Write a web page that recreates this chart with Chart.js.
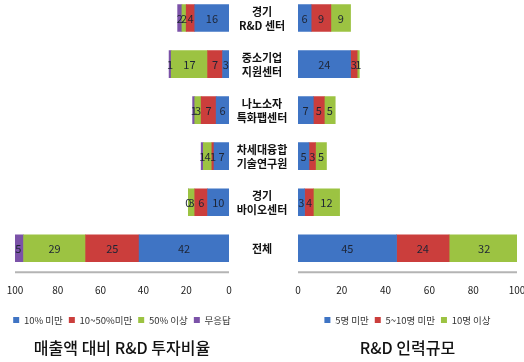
<!DOCTYPE html>
<html><head><meta charset="utf-8">
<script src="https://cdn.jsdelivr.net/npm/chart.js@4"></script>
<style>
html,body{margin:0;padding:0;background:#fff;width:524px;height:362px;overflow:hidden;position:relative;}
#c1{position:absolute;left:0;top:-6px;}
#c2{position:absolute;left:280px;top:-6px;}
</style></head><body>
<canvas id="c1" width="300" height="368"></canvas>
<canvas id="c2" width="244" height="368"></canvas>
<script>
const categories = [["경기","R&D 센터"],["중소기업","지원센터"],["나노소자","특화팹센터"],["차세대융합","기술연구원"],["경기","바이오센터"],["전체"]];
// 매출액 대비 R&D 투자비율
const invLabels = ["10% 미만","10~50%미만","50% 이상","무응답"];
const invUnder10 = [16, 3, 6, 7, 10, 42];
const inv10to50 = [4, 7, 7, 1, 6, 25];
const inv50plus = [2, 17, 3, 4, 3, 29];
const invNoResp = [2, 1, 1, 1, 0, 5];
// R&D 인력규모
const staffLabels = ["5명 미만","5~10명 미만","10명 이상"];
const staffUnder5 = [6, 24, 7, 5, 3, 45];
const staff5to10 = [9, 3, 5, 3, 4, 24];
const staff10plus = [9, 1, 5, 5, 12, 32];
const xTicks = [0, 20, 40, 60, 80, 100];

const COLORS = ['#3F74C4','#CB3E3C','#9CC342','#7B52A8'];
const FONT = "'Noto Sans CJK KR','Noto Sans',sans-serif";
const LEGEND_EXTRA = 80;

const valueLabels = {
  id:'valueLabels',
  afterDatasetsDraw(chart){
    const ctx = chart.ctx;
    ctx.save();
    ctx.font = "11px " + FONT;
    ctx.fillStyle = '#1e2535';
    ctx.textAlign = 'center';
    ctx.textBaseline = 'middle';
    chart.data.datasets.forEach((ds, i) => {
      chart.getDatasetMeta(i).data.forEach((el, j) => {
        const p = el.getCenterPoint();
        ctx.fillText(String(ds.data[j]), p.x, p.y + 1);
      });
    });
    ctx.restore();
  }
};
// axis baseline along the bottom of the x scale
const axisLine = {
  id:'axisLine',
  beforeDatasetsDraw(chart){
    const x = chart.scales.x, ctx = chart.ctx;
    ctx.save();
    ctx.strokeStyle = '#b4b4b4';
    ctx.lineWidth = 2;
    ctx.beginPath();
    ctx.moveTo(x.left, x.top + 1);
    ctx.lineTo(x.right, x.top + 1);
    ctx.stroke();
    ctx.restore();
  }
};
const catLabels = {
  id:'catLabels',
  afterDraw(chart){
    const ctx = chart.ctx, y = chart.scales.y;
    ctx.save();
    ctx.font = "bold 11px " + FONT;
    ctx.fillStyle = '#111';
    ctx.textAlign = 'center';
    ctx.textBaseline = 'middle';
    categories.forEach((lines, i) => {
      const cy = y.getPixelForValue(i);
      const lh = 14;
      const start = cy - (lines.length - 1) * lh / 2;
      lines.forEach((t, k) => ctx.fillText(t, 262, start + k * lh + 1));
    });
    ctx.restore();
  }
};
// widen the legend box symmetrically around the plot area so it stays on one row
const wideLegend = {
  id:'wideLegend',
  afterLayout(chart){
    const L = chart.legend;
    if (!L) return;
    L.left -= LEGEND_EXTRA / 2; L.right += LEGEND_EXTRA / 2; L.width += LEGEND_EXTRA;
  }
};

function makeChart(id, labels, series, reverse, padding, title, extraPlugins){
  const datasets = series.map((d, i) => ({
    label: labels[i], data: d, backgroundColor: COLORS[i], borderWidth: 0, barThickness: 27
  }));
  const chart = new Chart(document.getElementById(id), {
    type: 'bar',
    data: { labels: categories.map(c => c.join(' ')), datasets },
    options: {
      indexAxis: 'y', responsive: false, animation: false, devicePixelRatio: 1,
      layout: { padding },
      scales: {
        x: {
          stacked: true, reverse, min: 0, max: 100,
          afterBuildTicks(s){ s.ticks = xTicks.map(v => ({value: v})); },
          afterFit(s){ s.paddingLeft = 0; s.paddingRight = 0; },
          grid: { display: false, drawTicks: false },
          border: { display: false },
          ticks: { padding: 13, color: '#222', font: { size: 10, family: FONT }, maxRotation: 0, autoSkip: false }
        },
        y: { stacked: true, display: false }
      },
      plugins: {
        legend: { position: 'bottom', labels: { boxWidth: 6, boxHeight: 6, padding: 6, color: '#333', font: { size: 9.5, family: FONT } } },
        title: { display: true, position: 'bottom', text: title, color: '#111', padding: { top: 4, bottom: 4 }, font: { size: 16, weight: '500', family: FONT } },
        tooltip: { enabled: false }
      }
    },
    plugins: [axisLine, valueLabels, wideLegend].concat(extraPlugins)
  });
  const L = chart.legend;
  const origUpdate = L.update.bind(L);
  L.update = (mw, mh, m) => origUpdate(mw + LEGEND_EXTRA, mh, m);
  chart.update();
  return chart;
}

makeChart('c1', invLabels, [invUnder10, inv10to50, inv50plus, invNoResp], true,
  { left: 15, right: 71, top: 1, bottom: 0 }, '매출액 대비 R&D 투자비율', [catLabels]);
makeChart('c2', staffLabels, [staffUnder5, staff5to10, staff10plus], false,
  { left: 18, right: 7, top: 1, bottom: 0 }, 'R&D 인력규모', []);
</script>
</body></html>
